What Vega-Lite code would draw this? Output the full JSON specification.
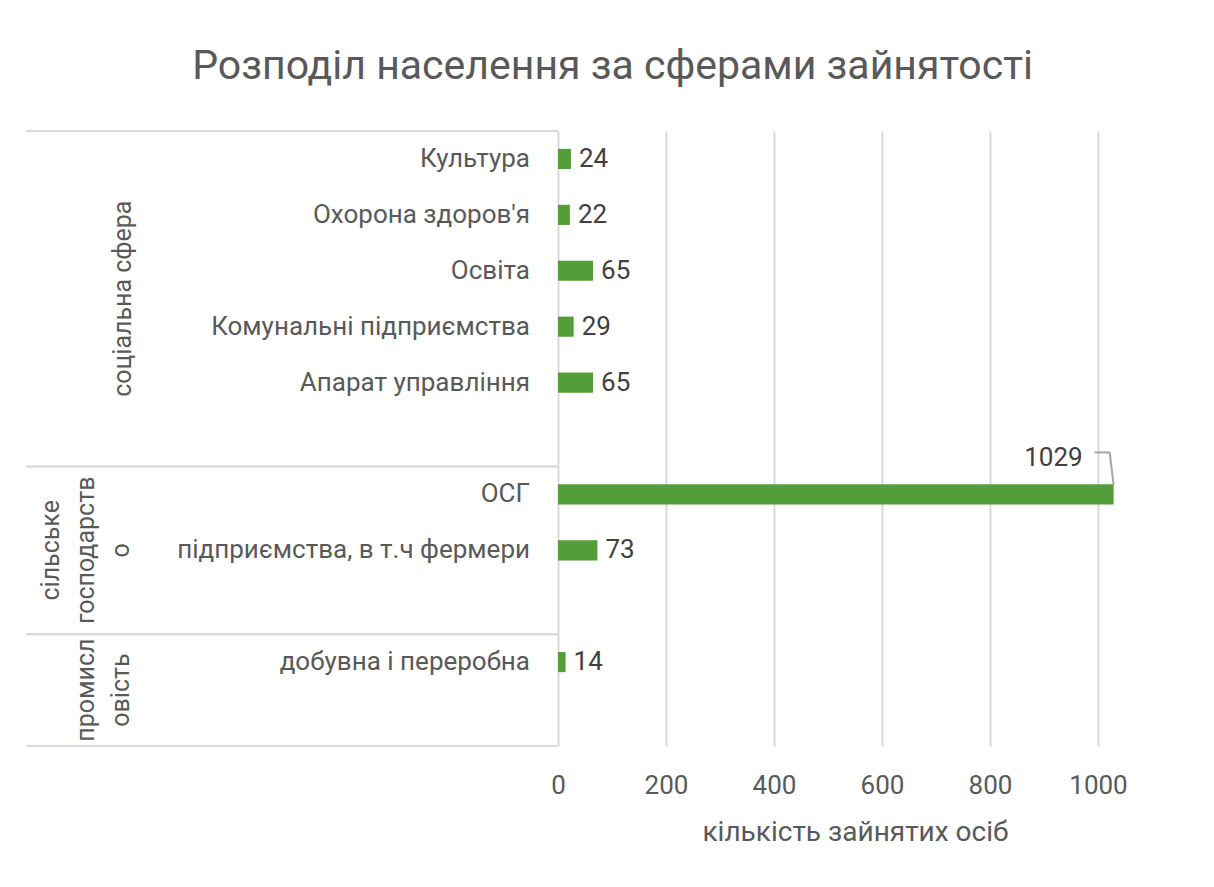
{
  "$schema": "https://vega.github.io/schema/vega-lite/v6.json",
  "padding": {"left": 25, "top": 45, "right": 5, "bottom": 5},
  "bounds": "flush",
  "title": {"text": "Розподіл населення за сферами зайнятості", "fontSize": 41, "font": "Roboto", "fontWeight": "normal", "color": "#595959", "anchor": "middle", "offset": 42, "dx": 24},
  "config": {"view": {"stroke": null}, "font": "Roboto"},
  "data": {"values": [
    {"row": 0, "group": "соціальна сфера", "groupLines": "соціальна сфера", "category": "Культура", "value": 24},
    {"row": 1, "group": "соціальна сфера", "groupLines": "соціальна сфера", "category": "Охорона здоров'я", "value": 22},
    {"row": 2, "group": "соціальна сфера", "groupLines": "соціальна сфера", "category": "Освіта", "value": 65},
    {"row": 3, "group": "соціальна сфера", "groupLines": "соціальна сфера", "category": "Комунальні підприємства", "value": 29},
    {"row": 4, "group": "соціальна сфера", "groupLines": "соціальна сфера", "category": "Апарат управління", "value": 65},
    {"row": 5, "group": "соціальна сфера", "groupLines": "соціальна сфера", "category": "", "value": null},
    {"row": 6, "group": "сільське господарство", "groupLines": "сільське|господарств|о", "category": "ОСГ", "value": 1029},
    {"row": 7, "group": "сільське господарство", "groupLines": "сільське|господарств|о", "category": "підприємства, в т.ч фермери", "value": 73},
    {"row": 8, "group": "сільське господарство", "groupLines": "сільське|господарств|о", "category": "", "value": null},
    {"row": 9, "group": "промисловість", "groupLines": "промисл|овість", "category": "добувна і переробна", "value": 14},
    {"row": 10, "group": "промисловість", "groupLines": "промисл|овість", "category": "", "value": null}
  ]},
  "spacing": 0,
  "hconcat": [
    {
      "width": 532,
      "height": 615,
      "layer": [
        {
          "mark": {"type": "rule", "color": "#d9d9d9", "strokeWidth": 2, "yOffset": -28},
          "encoding": {
            "x": {"datum": 0, "type": "quantitative", "scale": {"domain": [0, 1]}, "axis": null},
            "x2": {"datum": 1},
            "y": {"aggregate": "min", "field": "row", "type": "quantitative", "scale": {"domain": [-0.5, 10.5], "reverse": true, "nice": false, "zero": false}, "axis": null},
            "detail": {"field": "group"}
          }
        },
        {
          "mark": {"type": "rule", "color": "#d9d9d9", "strokeWidth": 2, "yOffset": 28},
          "encoding": {
            "x": {"datum": 0, "type": "quantitative", "scale": {"domain": [0, 1]}, "axis": null},
            "x2": {"datum": 1},
            "y": {"aggregate": "max", "field": "row", "type": "quantitative", "scale": {"domain": [-0.5, 10.5], "reverse": true, "nice": false, "zero": false}, "axis": null},
            "detail": {"field": "group"}
          }
        },
        {
          "mark": {"type": "text", "align": "right", "baseline": "middle", "dx": -28, "fontSize": 26, "color": "#595959"},
          "encoding": {
            "x": {"datum": 1, "type": "quantitative", "scale": {"domain": [0, 1]}, "axis": null},
            "y": {"field": "row", "type": "quantitative", "scale": {"domain": [-0.5, 10.5], "reverse": true, "nice": false, "zero": false}, "axis": null},
            "text": {"field": "category"}
          }
        },
        {
          "transform": [{"filter": "datum.group == 'соціальна сфера'"}],
          "mark": {"type": "text", "align": "center", "baseline": "middle", "angle": 270, "dy": 97, "fontSize": 25, "lineBreak": "|", "lineHeight": 35, "color": "#595959"},
          "encoding": {
            "x": {"datum": 0, "type": "quantitative", "scale": {"domain": [0, 1]}, "axis": null},
            "y": {"aggregate": "mean", "field": "row", "type": "quantitative", "scale": {"domain": [-0.5, 10.5], "reverse": true, "nice": false, "zero": false}, "axis": null},
            "text": {"field": "groupLines"},
            "detail": {"field": "group"}
          }
        },
        {
          "transform": [{"filter": "datum.group == 'сільське господарство'"}],
          "mark": {"type": "text", "align": "center", "baseline": "middle", "angle": 270, "dy": 25, "fontSize": 25, "lineBreak": "|", "lineHeight": 35, "color": "#595959"},
          "encoding": {
            "x": {"datum": 0, "type": "quantitative", "scale": {"domain": [0, 1]}, "axis": null},
            "y": {"aggregate": "mean", "field": "row", "type": "quantitative", "scale": {"domain": [-0.5, 10.5], "reverse": true, "nice": false, "zero": false}, "axis": null},
            "text": {"field": "groupLines"},
            "detail": {"field": "group"}
          }
        },
        {
          "transform": [{"filter": "datum.group == 'промисловість'"}],
          "mark": {"type": "text", "align": "center", "baseline": "middle", "angle": 270, "dy": 60, "fontSize": 25, "lineBreak": "|", "lineHeight": 35, "color": "#595959"},
          "encoding": {
            "x": {"datum": 0, "type": "quantitative", "scale": {"domain": [0, 1]}, "axis": null},
            "y": {"aggregate": "mean", "field": "row", "type": "quantitative", "scale": {"domain": [-0.5, 10.5], "reverse": true, "nice": false, "zero": false}, "axis": null},
            "text": {"field": "groupLines"},
            "detail": {"field": "group"}
          }
        }
      ]
    },
    {
      "width": 594,
      "height": 615,
      "encoding": {
        "y": {"field": "row", "type": "ordinal", "scale": {"domain": [0, 1, 2, 3, 4, 5, 6, 7, 8, 9, 10], "paddingInner": 0.64, "paddingOuter": 0.32}, "axis": null},
        "x": {"field": "value", "type": "quantitative", "scale": {"domain": [0, 1100], "nice": false},
          "axis": {"values": [0, 200, 400, 600, 800, 1000], "format": "d", "grid": true, "gridColor": "#d9d9d9", "gridWidth": 2, "domain": false, "ticks": false,
            "labelFontSize": 26, "labelColor": "#595959", "labelPadding": 26, "labelFlush": false,
            "title": "кількість зайнятих осіб", "titleFontSize": 28, "titleColor": "#595959", "titleFontWeight": "normal", "titlePadding": 20}}
      },
      "layer": [
        {"mark": {"type": "bar", "color": "#549e39"}},
        {
          "transform": [{"filter": "datum.value != null && datum.value < 1000"}],
          "mark": {"type": "text", "align": "left", "baseline": "middle", "dx": 8, "fontSize": 26, "color": "#404040"},
          "encoding": {"text": {"field": "value", "type": "quantitative", "format": "d"}}
        },
        {
          "transform": [{"filter": "datum.value >= 1000"}],
          "mark": {"type": "text", "align": "right", "baseline": "middle", "dx": -31, "dy": -36, "fontSize": 26, "color": "#404040"},
          "encoding": {"text": {"field": "value", "type": "quantitative", "format": "d"}}
        },
        {
          "transform": [{"filter": "datum.value >= 1000"}],
          "mark": {"type": "rule", "color": "#a6a6a6", "strokeWidth": 2, "xOffset": -19, "x2Offset": -4, "yOffset": -42},
          "encoding": {"x2": {"field": "value"}}
        },
        {
          "transform": [{"filter": "datum.value >= 1000"}],
          "mark": {"type": "rule", "color": "#a6a6a6", "strokeWidth": 2, "xOffset": -4, "x2Offset": 0, "yOffset": -42, "y2Offset": -9},
          "encoding": {"x2": {"field": "value"}, "y2": {"field": "row"}}
        }
      ]
    }
  ]
}
